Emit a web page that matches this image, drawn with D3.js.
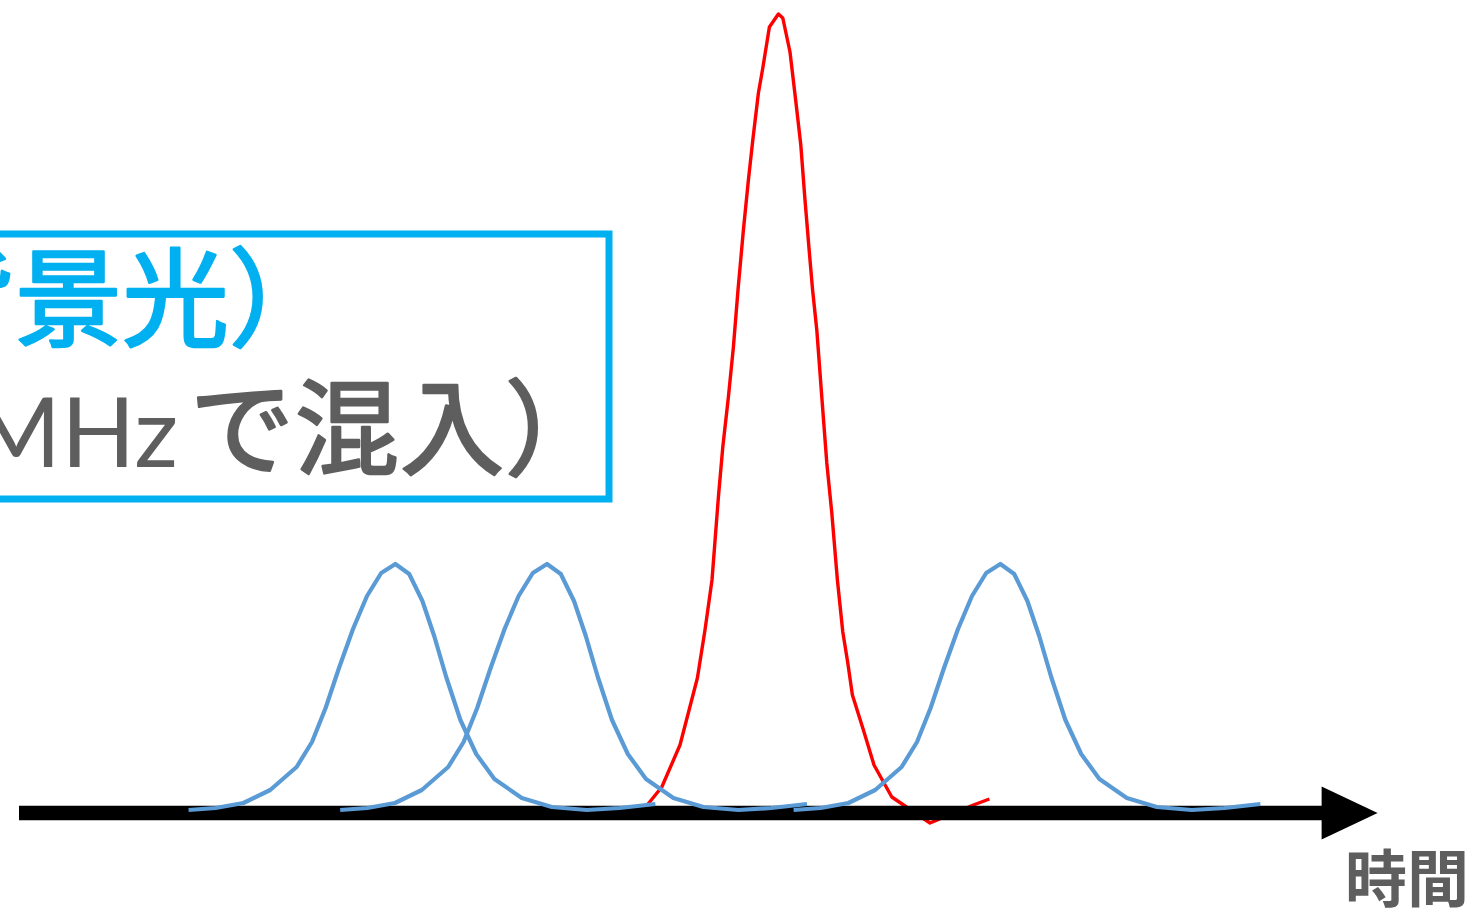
<!DOCTYPE html>
<html><head><meta charset="utf-8">
<script src="https://cdn.jsdelivr.net/npm/d3@7"></script>
<style>html,body{margin:0;padding:0;background:#fff;overflow:hidden}</style>
</head><body>
<svg id="c" width="1472" height="911"></svg>
<script>
// Background-light pulse shape: time relative to pulse start (ns) and intensity (a.u.)
const pulseShapeTime  = [0.00,1.35,2.74,4.08,5.40,6.17,6.85,7.52,8.22,8.92,9.63,10.34,11.03,11.69,12.28,12.88,13.59,14.38,15.29,16.66,18.16,19.91,21.55,23.34];
const pulseShapeValue = [1,3,8,21,44,69,103,143,182,215,238,247,237,210,175,134,91,57,32,13,4,1,3,7];
// Start times (ns) of the background pulses
const backgroundPulseStarts = [8.48, 16.06, 38.73];
// Signal (red) pulse
const signalTime  = [31.05,32.14,33.05,33.92,34.30,34.65,34.97,35.19,35.47,35.72,35.95,36.22,36.47,36.69,36.97,37.19,37.52,37.97,38.19,38.55,38.85,39.09,39.30,39.52,39.68,39.89,40.14,40.39,40.64,40.92,41.19,41.44,41.67,42.22,42.75,43.64,45.55,47.72,48.52];
const signalValue = [-3,24,66,133,181,231,314,364,414,464,521,581,631,671,718,743,784,797,793,759,708,666,611,558,521,481,414,348,298,231,179,148,116,81,46,14,-12,6,12];
// Texts
const axisLabel = "時間";
const boxLine1 = "背景光）";
const boxLine2Latin = "MHz";
const boxLine2Jp = "で混入）";

const svg = d3.select("#c");
const x = d3.scaleLinear().domain([0, 68]).range([19, 1379]);
const y = d3.scaleLinear().domain([0, 800]).range([811, 11]);
const line = d3.line().x(d => x(d[0])).y(d => y(d[1]));

// Red signal (drawn behind the axis)
const signal = signalTime.map((t, i) => [t, signalValue[i]]);
svg.append("path").attr("d", line(signal))
  .attr("fill", "none").attr("stroke", "#FF0000").attr("stroke-width", 3.4)
  .attr("stroke-linejoin", "round");

// Time axis arrow
const y0 = y(0) + 2;
svg.append("line").attr("x1", x(0)).attr("x2", x(65.2)).attr("y1", y0).attr("y2", y0)
  .attr("stroke", "#000").attr("stroke-width", 14.5);
svg.append("path")
  .attr("d", `M${x(65.13)},${y0 - 26.5}L${x(67.93)},${y0}L${x(65.13)},${y0 + 26.5}Z`)
  .attr("fill", "#000");

// Blue background pulses (on top)
backgroundPulseStarts.forEach(s => {
  const pts = pulseShapeTime.map((t, i) => [s + t, pulseShapeValue[i]]);
  svg.append("path").attr("d", line(pts))
    .attr("fill", "none").attr("stroke", "#5B9BD5").attr("stroke-width", 4.2)
    .attr("stroke-linejoin", "round");
});

// Text box
svg.append("rect").attr("x", -20).attr("y", 234).attr("width", 629).attr("height", 265)
  .attr("fill", "none").attr("stroke", "#00B0F0").attr("stroke-width", 7);

svg.append("text").attr("x", 336).attr("y", 338).attr("text-anchor", "end")
  .attr("font-family", "'Noto Sans CJK JP'").attr("font-weight", 400)
  .attr("font-size", 107).attr("fill", "#00B0F0")
  .attr("stroke", "#00B0F0").attr("stroke-width", 2.6).attr("stroke-linejoin", "round")
  .text(boxLine1);

const t2 = svg.append("text").attr("x", 610).attr("y", 467).attr("text-anchor", "end")
  .attr("fill", "#5E5E5E");
t2.append("tspan").attr("font-family", "Lato, 'Noto Sans CJK JP'").attr("font-weight", 400)
  .attr("font-size", 97).text(boxLine2Latin);
t2.append("tspan").attr("dx", 12).attr("font-family", "'Noto Sans CJK JP'").attr("font-weight", 400)
  .attr("font-size", 104).attr("letter-spacing", 1)
  .attr("stroke", "#5E5E5E").attr("stroke-width", 2.6).attr("stroke-linejoin", "round")
  .text(boxLine2Jp);

// Axis label
svg.append("text").attr("x", 1469).attr("y", 902).attr("text-anchor", "end")
  .attr("font-family", "'Noto Sans CJK JP'").attr("font-weight", 700)
  .attr("font-size", 62).attr("fill", "#5E5E5E").text(axisLabel);
</script>
</body></html>
